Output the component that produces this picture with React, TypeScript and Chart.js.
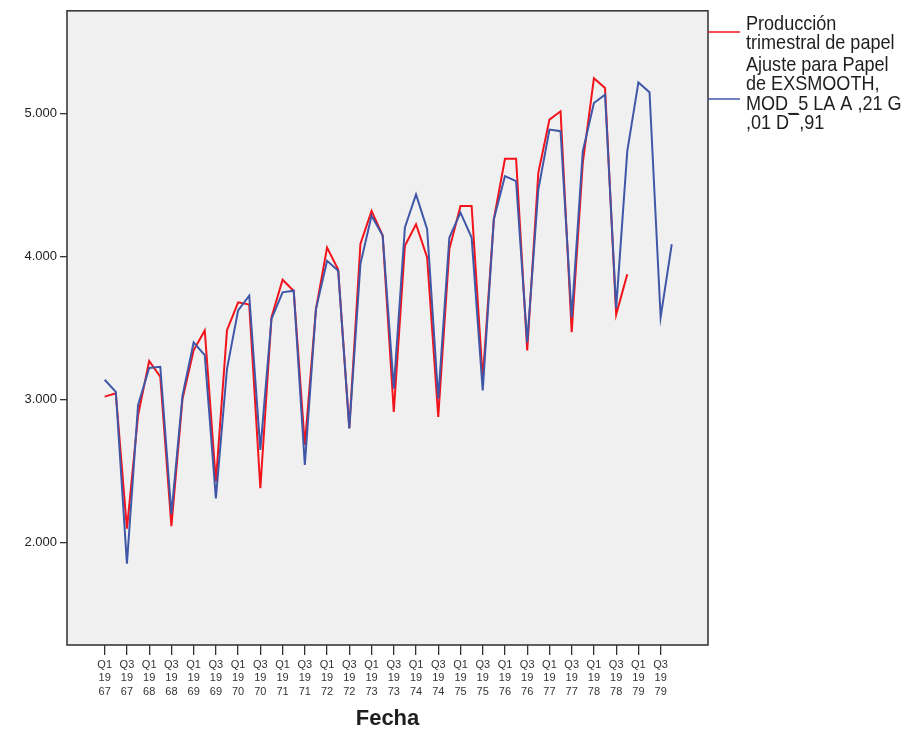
import React, { useEffect, useRef } from "react";
import { Chart, registerables } from "chart.js";

Chart.register(...registerables);

const QUARTERS = ["Q1", "Q2", "Q3", "Q4"];
const YEARS = [1967, 1968, 1969, 1970, 1971, 1972, 1973, 1974, 1975, 1976, 1977, 1978, 1979];

// Producción trimestral de papel (Q1 1967 .. Q4 1978)
const produccion = [
  3021, 3045, 2097, 2890,
  3271, 3160, 2116, 3007,
  3345, 3484, 2426, 3486,
  3681, 3665, 2380, 3576,
  3839, 3760, 2682, 3634,
  4064, 3910, 2800, 4090,
  4320, 4148, 2914, 4076,
  4227, 3995, 2879, 4053,
  4355, 4355, 3146, 4262,
  4685, 4685, 3344, 4587,
  4959, 5017, 3472, 4657,
  5249, 5180, 3595, 3878,
];

// Ajuste para Papel de EXSMOOTH (Q1 1967 .. Q4 1979)
const ajuste = [
  3139, 3055, 1852, 2961,
  3222, 3230, 2200, 3030,
  3400, 3311, 2310, 3216,
  3625, 3727, 2649, 3565,
  3751, 3762, 2543, 3634,
  3971, 3902, 2798, 3950,
  4287, 4148, 3077, 4204,
  4436, 4192, 3007, 4134,
  4308, 4134, 3065, 4262,
  4564, 4529, 3400, 4470,
  4889, 4878, 3576, 4738,
  5075, 5133, 3640, 4738,
  5219, 5150, 3576, 4087,
];

const Y_TICKS = [2000, 3000, 4000, 5000];
const LEGEND_RED = ["Producción", "trimestral de papel"];
const LEGEND_BLUE = ["Ajuste para Papel", "de EXSMOOTH,", "MOD_5 LA A ,21 G", ",01 D¯,91"];

const categories: { q: string; y: number }[] = [];
YEARS.forEach((y) => QUARTERS.forEach((q) => categories.push({ q, y })));

const RED = "#f2131b";
const BLUE = "#4057a8";

const framePlugin = {
  id: "frame",
  beforeDraw(chart: any) {
    const { ctx, chartArea: a } = chart;
    ctx.save();
    ctx.fillStyle = "#ffffff";
    ctx.fillRect(0, 0, chart.width, chart.height);
    ctx.fillStyle = "#f0f0f0";
    ctx.fillRect(a.left, a.top, a.right - a.left, a.bottom - a.top);
    ctx.restore();
  },
  afterDraw(chart: any) {
    const { ctx, chartArea: a } = chart;
    ctx.save();
    ctx.strokeStyle = "#3a3a3a";
    ctx.lineWidth = 1.6;
    ctx.strokeRect(a.left, a.top, a.right - a.left, a.bottom - a.top);

    // legend
    ctx.lineWidth = 1.5;
    ctx.strokeStyle = RED;
    ctx.beginPath();
    ctx.moveTo(a.right, 32);
    ctx.lineTo(a.right + 32, 32);
    ctx.stroke();
    ctx.strokeStyle = BLUE;
    ctx.beginPath();
    ctx.moveTo(a.right, 99);
    ctx.lineTo(a.right + 32, 99);
    ctx.stroke();

    ctx.fillStyle = "#1e1e1e";
    ctx.font = '21px "Liberation Sans", Arial, sans-serif';
    ctx.textBaseline = "alphabetic";
    ctx.textAlign = "left";
    const sx = 0.86;
    const drawLines = (lines: string[], y0: number) => {
      lines.forEach((t, i) => {
        ctx.save();
        ctx.translate(746, y0 + i * 19.3);
        ctx.scale(sx, 1);
        ctx.fillText(t, 0, 0);
        ctx.restore();
      });
    };
    drawLines(LEGEND_RED, 30);
    drawLines(LEGEND_BLUE, 71);
    ctx.restore();
  },
};

export default function App() {
  const ref = useRef<HTMLCanvasElement>(null);
  useEffect(() => {
    if (!ref.current) return;
    const chart = new Chart(ref.current, {
      type: "line",
      data: {
        datasets: [
          {
            label: "Producción trimestral de papel",
            data: produccion.map((v, i) => ({ x: i, y: v })),
            borderColor: RED,
            borderWidth: 2,
            pointRadius: 0,
            tension: 0,
            order: 1,
          },
          {
            label: "Ajuste para Papel de EXSMOOTH, MOD_5 LA A ,21 G ,01 D ,91",
            data: ajuste.map((v, i) => ({ x: i, y: v })),
            borderColor: BLUE,
            borderWidth: 2,
            pointRadius: 0,
            tension: 0,
            order: 0,
          },
        ],
      },
      options: {
        responsive: false,
        animation: false,
        layout: { padding: { left: 0, top: 8, right: 216, bottom: 0 } },
        plugins: {
          legend: { display: false },
          tooltip: { enabled: false },
        },
        scales: {
          x: {
            type: "linear",
            min: -3.39,
            max: 54.26,
            afterFit: (s: any) => {
              s.height = 88;
            },
            afterBuildTicks: (s: any) => {
              s.ticks = categories
                .map((_, i) => i)
                .filter((i) => i % 2 === 0)
                .map((i) => ({ value: i }));
            },
            border: { display: false },
            grid: {
              drawOnChartArea: false,
              drawTicks: true,
              tickLength: 10,
              color: "#333333",
              lineWidth: 1.3,
            },
            ticks: {
              autoSkip: false,
              maxRotation: 0,
              minRotation: 0,
              padding: 3,
              color: "#333333",
              font: { family: '"Liberation Sans", Arial, sans-serif', size: 11, lineHeight: "13.5px" },
              callback: (v: any) => {
                const c = categories[Number(v)];
                if (!c) return "";
                const ys = String(c.y);
                return [c.q, ys.slice(0, 2), ys.slice(2)];
              },
            },
            title: {
              display: true,
              text: "Fecha",
              color: "#1e1e1e",
              padding: { top: 0, bottom: 1 },
              font: { family: '"Liberation Sans", Arial, sans-serif', size: 22, weight: "bold" },
            },
          },
          y: {
            min: 1284,
            max: 5720,
            afterFit: (s: any) => {
              s.width = 67;
            },
            afterBuildTicks: (s: any) => {
              s.ticks = Y_TICKS.map((v) => ({ value: v }));
            },
            border: { display: false },
            grid: {
              drawOnChartArea: false,
              drawTicks: true,
              tickLength: 7,
              color: "#333333",
              lineWidth: 1.3,
            },
            ticks: {
              padding: 3,
              color: "#222222",
              font: { family: '"Liberation Sans", Arial, sans-serif', size: 13 },
              callback: (v: any) => {
                const n = Number(v);
                return Math.floor(n / 1000) + "." + String(n % 1000).padStart(3, "0");
              },
            },
          },
        },
      },
      plugins: [framePlugin],
    });
    return () => chart.destroy();
  }, []);
  return (
    <div style={{ position: "fixed", left: 0, top: 0, width: 924, height: 733, background: "#fff" }}>
      <canvas ref={ref} width={924} height={733} style={{ display: "block", width: 924, height: 733 }} />
    </div>
  );
}
